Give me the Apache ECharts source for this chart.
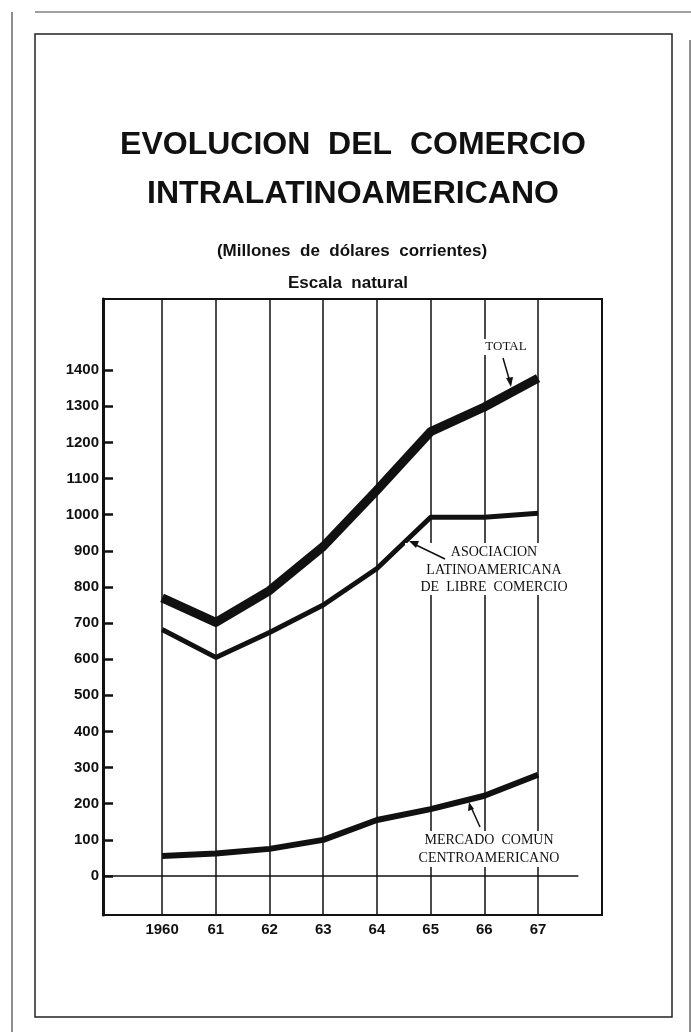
<!DOCTYPE html>
<html>
<head>
<meta charset="utf-8">
<script src="https://cdn.jsdelivr.net/npm/echarts@6/dist/echarts.min.js"></script>
<style>
html, body { margin: 0; padding: 0; background: #fff; }
#chart { width: 691px; height: 1032px; }
</style>
</head>
<body>
<div id="chart"></div>
<script>
// años y etiquetas del eje X
var years = [1960, 1961, 1962, 1963, 1964, 1965, 1966, 1967];
var yearLabels = ['1960', '61', '62', '63', '64', '65', '66', '67'];
// millones de dólares corrientes
var total = [770, 702, 790, 912, 1068, 1230, 1298, 1378];
var alalc = [682, 605, 674, 750, 851, 993, 993, 1004];
var mcca = [55, 62, 75, 100, 155, 185, 222, 280];
var yTicks = [0, 100, 200, 300, 400, 500, 600, 700, 800, 900, 1000, 1100, 1200, 1300, 1400];

var sans = '"Liberation Sans", Arial, sans-serif';
var serif = '"Liberation Serif", "DejaVu Serif", serif';

function pairs(vals) {
    return years.map(function (y, i) { return [y, vals[i]]; });
}

var myChart = echarts.init(document.getElementById('chart'));

var option = {
    backgroundColor: '#fff',
    animation: false,
    grid: {
        left: 103, right: 89, top: 299, bottom: 117,
        show: true, borderColor: '#111', borderWidth: 2
    },
    xAxis: {
        type: 'value',
        min: 1958.9,
        max: 1968.19,
        axisLine: { show: false },
        axisTick: { show: false },
        splitLine: { show: false },
        axisLabel: {
            customValues: years,
            margin: 7,
            color: '#111',
            fontFamily: sans,
            fontWeight: 'bold',
            fontSize: 15,
            formatter: function (v) {
                var i = years.indexOf(Math.round(v));
                return i >= 0 ? yearLabels[i] : '';
            }
        }
    },
    yAxis: {
        type: 'value',
        min: -108,
        max: 1597,
        axisLine: { show: true, lineStyle: { color: '#111', width: 3 } },
        axisTick: {
            show: true, customValues: yTicks, inside: true, length: 10,
            lineStyle: { color: '#111', width: 2.5 }
        },
        splitLine: { show: false },
        axisLabel: {
            customValues: yTicks,
            margin: 4,
            color: '#111',
            fontFamily: sans,
            fontWeight: 'bold',
            fontSize: 15,
            formatter: function (v) { return String(Math.round(v)); }
        }
    },
    series: [
        {
            name: 'TOTAL', type: 'line', data: pairs(total),
            symbol: 'none', lineStyle: { color: '#111', width: 9, join: 'round' },
            z: 5,
            markLine: {
                silent: true, symbol: 'none', animation: false,
                label: { show: false },
                lineStyle: { color: '#111', width: 1.5, type: 'solid' },
                data: years.map(function (y) { return { xAxis: y }; })
            }
        },
        {
            name: 'ALALC', type: 'line', data: pairs(alalc),
            symbol: 'none', lineStyle: { color: '#111', width: 5, join: 'round' },
            z: 5
        },
        {
            name: 'MCCA', type: 'line', data: pairs(mcca),
            symbol: 'none', lineStyle: { color: '#111', width: 6, join: 'round' },
            z: 5,
            markLine: {
                silent: true, symbol: 'none', animation: false,
                label: { show: false },
                lineStyle: { color: '#111', width: 1.5, type: 'solid' },
                data: [[{ coord: [1958.9, 0] }, { coord: [1967.75, 0] }]]
            }
        }
    ],
    graphic: [
        // marcos
        { type: 'rect', shape: { x: 35, y: 34, width: 637, height: 983 },
          style: { fill: 'none', stroke: '#222', lineWidth: 1.5 }, silent: true },
        { type: 'line', shape: { x1: 35, y1: 12, x2: 691, y2: 12 },
          style: { stroke: '#444', lineWidth: 1.2 }, silent: true },
        { type: 'line', shape: { x1: 12, y1: 12, x2: 12, y2: 1032 },
          style: { stroke: '#444', lineWidth: 1.2 }, silent: true },
        { type: 'line', shape: { x1: 690, y1: 40, x2: 690, y2: 1032 },
          style: { stroke: '#444', lineWidth: 1.2 }, silent: true },
        // títulos
        { type: 'text', x: 353, y: 145, silent: true,
          style: { text: 'EVOLUCION  DEL  COMERCIO', fill: '#111', font: 'bold 32px ' + sans,
                   textAlign: 'center', textVerticalAlign: 'middle' } },
        { type: 'text', x: 353, y: 194, silent: true,
          style: { text: 'INTRALATINOAMERICANO', fill: '#111', font: 'bold 32px ' + sans,
                   textAlign: 'center', textVerticalAlign: 'middle' } },
        { type: 'text', x: 352, y: 251, silent: true,
          style: { text: '(Millones  de  dólares  corrientes)', fill: '#111', font: 'bold 17px ' + sans,
                   textAlign: 'center', textVerticalAlign: 'middle' } },
        { type: 'text', x: 348, y: 283, silent: true,
          style: { text: 'Escala  natural', fill: '#111', font: 'bold 17px ' + sans,
                   textAlign: 'center', textVerticalAlign: 'middle' } },
        // anotaciones
        { type: 'rect', shape: { x: 478, y: 339, width: 56, height: 16 }, style: { fill: '#fff' }, z: 10, silent: true },
        { type: 'text', x: 506, y: 347, z: 11, silent: true,
          style: { text: 'TOTAL', fill: '#111', font: '13px ' + serif,
                   textAlign: 'center', textVerticalAlign: 'middle' } },
        { type: 'line', shape: { x1: 503, y1: 358, x2: 510, y2: 382 }, z: 11, silent: true,
          style: { stroke: '#111', lineWidth: 1.5 } },
        { type: 'polygon', shape: { points: [[511, 387], [506, 378], [513, 377]] }, z: 11, silent: true,
          style: { fill: '#111' } },

        { type: 'rect', shape: { x: 405, y: 543, width: 178, height: 52 }, style: { fill: '#fff' }, z: 10, silent: true },
        { type: 'text', x: 494, y: 552, z: 11, silent: true,
          style: { text: 'ASOCIACION', fill: '#111', font: '14px ' + serif,
                   textAlign: 'center', textVerticalAlign: 'middle' } },
        { type: 'text', x: 494, y: 570, z: 11, silent: true,
          style: { text: 'LATINOAMERICANA', fill: '#111', font: '14px ' + serif,
                   textAlign: 'center', textVerticalAlign: 'middle' } },
        { type: 'text', x: 494, y: 587, z: 11, silent: true,
          style: { text: 'DE  LIBRE  COMERCIO', fill: '#111', font: '14px ' + serif,
                   textAlign: 'center', textVerticalAlign: 'middle' } },
        { type: 'line', shape: { x1: 445, y1: 559, x2: 414, y2: 544 }, z: 11, silent: true,
          style: { stroke: '#111', lineWidth: 1.5 } },
        { type: 'polygon', shape: { points: [[409, 541], [419, 541], [416, 548]] }, z: 11, silent: true,
          style: { fill: '#111' } },

        { type: 'rect', shape: { x: 403, y: 831, width: 172, height: 36 }, style: { fill: '#fff' }, z: 10, silent: true },
        { type: 'text', x: 489, y: 840, z: 11, silent: true,
          style: { text: 'MERCADO  COMUN', fill: '#111', font: '14px ' + serif,
                   textAlign: 'center', textVerticalAlign: 'middle' } },
        { type: 'text', x: 489, y: 858, z: 11, silent: true,
          style: { text: 'CENTROAMERICANO', fill: '#111', font: '14px ' + serif,
                   textAlign: 'center', textVerticalAlign: 'middle' } },
        { type: 'line', shape: { x1: 480, y1: 827, x2: 471, y2: 807 }, z: 11, silent: true,
          style: { stroke: '#111', lineWidth: 1.5 } },
        { type: 'polygon', shape: { points: [[469, 802], [468, 811], [474, 809]] }, z: 11, silent: true,
          style: { fill: '#111' } }
    ]
};

myChart.setOption(option);
</script>
</body>
</html>
